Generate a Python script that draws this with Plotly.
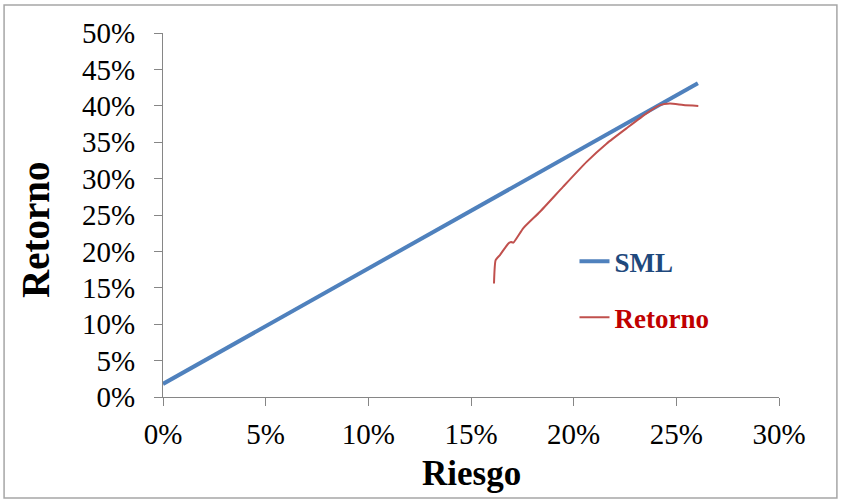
import plotly.graph_objects as go

# Data
sml_riesgo = [0.0, 0.2605]
sml_retorno = [0.018, 0.431]

ret_riesgo = [0.1612, 0.1620, 0.1641, 0.1682, 0.1695, 0.1706, 0.1755, 0.1836,
              0.1949, 0.2063, 0.2160, 0.2257, 0.2355, 0.2420, 0.2469, 0.2534, 0.2607]
ret_retorno = [0.1560, 0.1880, 0.1950, 0.2110, 0.2130, 0.2120, 0.2320, 0.2545,
               0.2890, 0.3230, 0.3480, 0.3690, 0.3896, 0.4010, 0.4030, 0.4010, 0.3997]

x_ticks = [0, 0.05, 0.10, 0.15, 0.20, 0.25, 0.30]
y_ticks = [0, 0.05, 0.10, 0.15, 0.20, 0.25, 0.30, 0.35, 0.40, 0.45, 0.50]

x_title = "Riesgo"
y_title = "Retorno"

serif = "Liberation Serif, DejaVu Serif, serif"

fig = go.Figure()
fig.add_trace(go.Scatter(
    x=sml_riesgo, y=sml_retorno, mode="lines",
    name="<b><span style='color:#1F497D'>SML</span></b>",
    line=dict(color="#4F81BD", width=4), legendgroup="a",
))
fig.add_trace(go.Scatter(
    x=ret_riesgo, y=ret_retorno, mode="lines",
    name="<b><span style='color:#C00000'>Retorno</span></b>",
    line=dict(color="#C0504D", width=2, shape="spline", smoothing=0.5), legendgroup="b",
))

axis_common = dict(
    showgrid=False, zeroline=False, showline=True, linecolor="#868686", linewidth=1,
    ticks="outside", ticklen=8, tickcolor="#868686", tickformat=".0%",
    tickfont=dict(family=serif, size=29, color="#000000"),
    automargin=False,
)

fig.update_layout(
    width=841, height=500,
    margin=dict(l=163, r=62, t=33, b=103),
    paper_bgcolor="white", plot_bgcolor="white",
    xaxis=dict(range=[0, 0.30], tickvals=x_ticks, ticklabelstandoff=3, **axis_common),
    yaxis=dict(range=[0, 0.50], tickvals=y_ticks, ticklabelstandoff=13, **axis_common),
    legend=dict(
        x=0.668, y=0.439, xanchor="left", yanchor="top",
        font=dict(family=serif, size=27),
        tracegroupgap=18, bgcolor="rgba(0,0,0,0)",
        itemwidth=30,
    ),
    showlegend=True,
)

fig.add_annotation(text="<b>" + x_title + "</b>", xref="paper", yref="paper",
                   x=0.5, y=-0.209, xanchor="center", yanchor="middle", showarrow=False,
                   font=dict(family=serif, size=35, color="#000000"))
fig.add_annotation(text="<b>" + y_title + "</b>", xref="paper", yref="paper",
                   x=-0.206, y=0.459, xanchor="center", yanchor="middle", showarrow=False,
                   textangle=-90, font=dict(family=serif, size=39, color="#000000"))

# outer chart border
fig.add_shape(type="rect", xref="paper", yref="paper",
              x0=-0.258, x1=1.094, y0=-0.2775, y1=1.077,
              line=dict(color="#A6A6A6", width=1.5), layer="below")

fig.write_html("out.html", config={"displayModeBar": False},
               post_script="document.body.style.margin='0px';")
